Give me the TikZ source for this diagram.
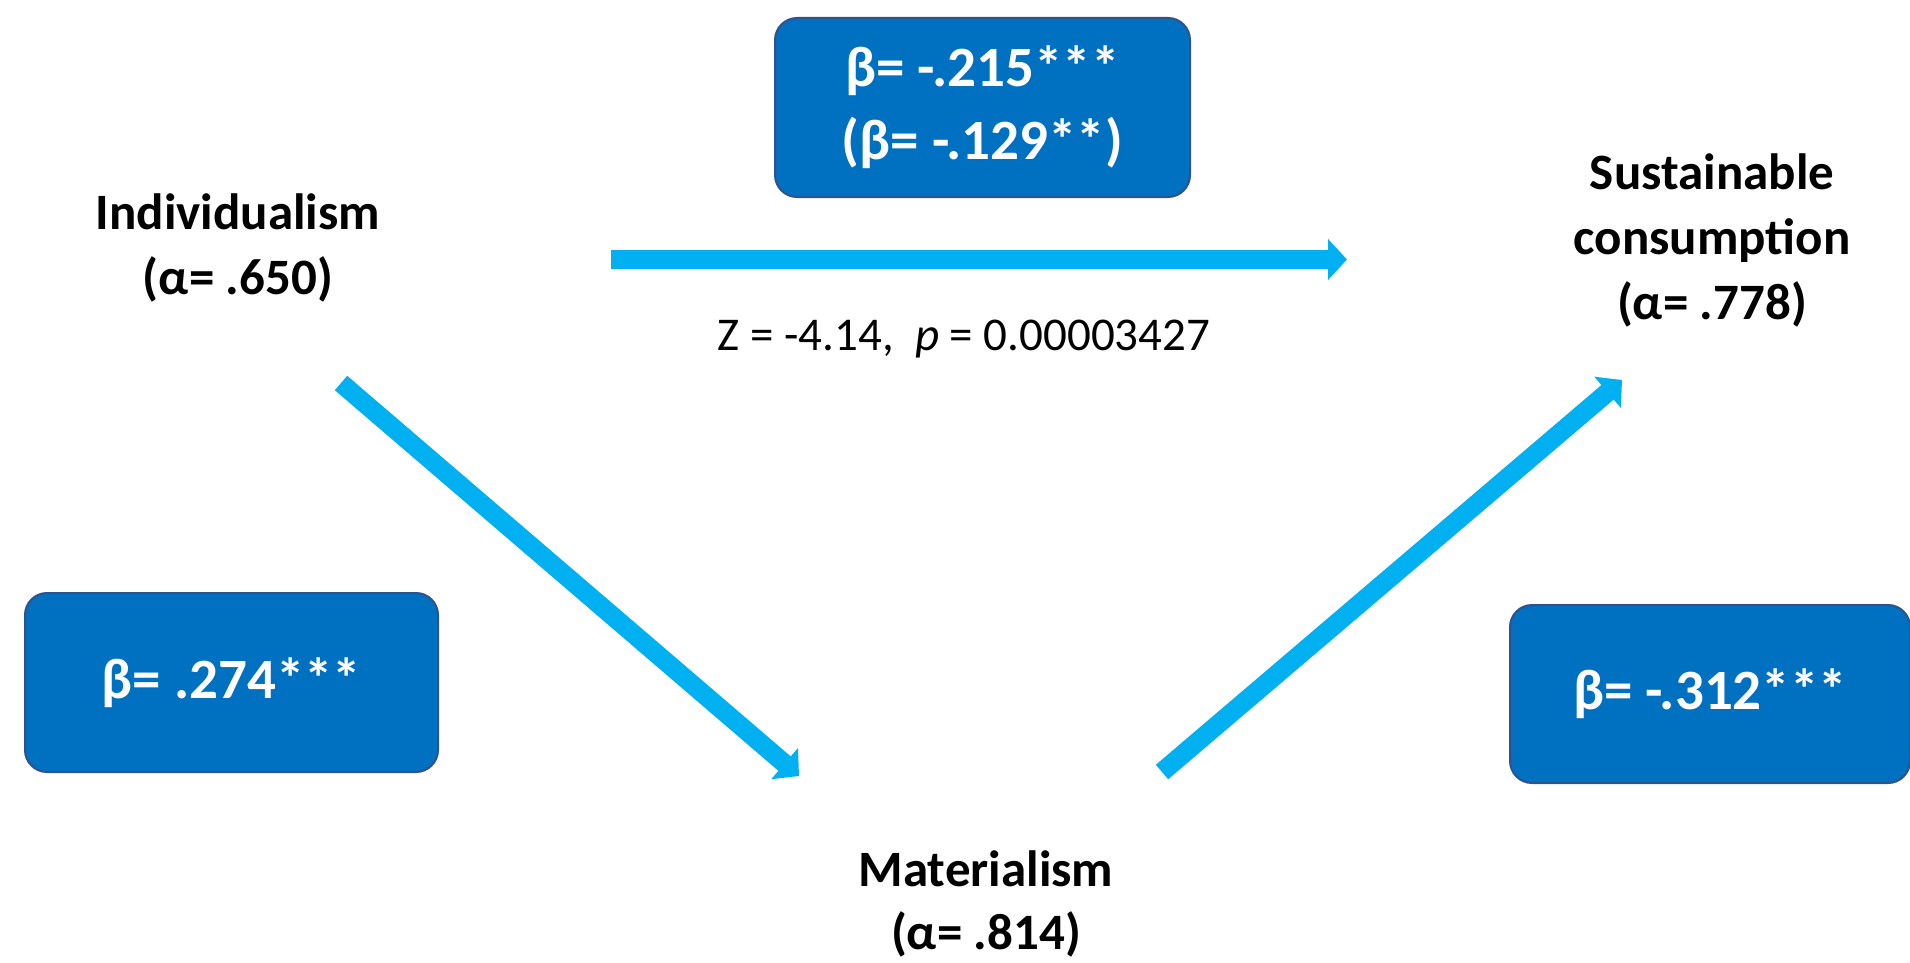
\documentclass[tikz,border=0pt]{standalone}
\usepackage{fontspec}
\setmainfont{Carlito}
\usetikzlibrary{arrows.meta}
\definecolor{boxblue}{HTML}{0070C0}
\definecolor{boxedge}{HTML}{2F528F}
\definecolor{arrowblue}{HTML}{00B0F0}
\begin{document}
\begin{tikzpicture}[x=1pt,y=-1pt,
  coef/.style={draw=boxedge, line width=2pt, fill=boxblue, rounded corners=22pt,
    text=white, font=\bfseries\fontsize{57}{73}\selectfont, align=center, inner sep=0pt},
  var/.style={font=\bfseries\fontsize{51}{65}\selectfont, align=center, anchor=base, inner sep=0pt},
  stat/.style={font=\fontsize{47}{56}\selectfont, anchor=base, inner sep=0pt},
  effect/.style={draw=arrowblue, line width=19pt, -{Triangle[length=19pt,width=40pt]}}]
\useasboundingbox (0,0) rectangle (1910,963);

% variables (anchor = baseline of last line)
\node[var] (ind) at (238,294) {Individualism\\(α= .650)};
\node[var] (sus) at (1712,319) {Sustainable\\consumption\\(α= .778)};
\node[var, font=\bfseries\fontsize{51}{63}\selectfont] (mat) at (986,949) {Materialism\\(α= .814)};

% coefficient boxes
\node[coef, minimum width=415pt, minimum height=179pt] (bc) at (982.5,107.5) {β= -.215***\\(β= -.129**)};
\node[coef, minimum width=413pt, minimum height=179pt] (ba) at (231.5,682.5) {β= .274***};
\node[coef, minimum width=400pt, minimum height=178pt] (bb) at (1710,694) {β= -.312***};

% statistic
\node[stat] (z) at (964,350) {Z = -4.14,\ \ \textit{p} = 0.00003427};

% arrow ends
\coordinate (c0) at (611,259.5);
\coordinate (c1) at (1347,259.5);
\coordinate (a0) at (341,383);
\coordinate (a1) at (799,776);
\coordinate (b0) at (1162,772);
\coordinate (b1) at (1622,380);

\draw[effect] (c0) -- (c1);
\draw[effect] (a0) -- (a1);
\draw[effect] (b0) -- (b1);
\end{tikzpicture}
\end{document}
